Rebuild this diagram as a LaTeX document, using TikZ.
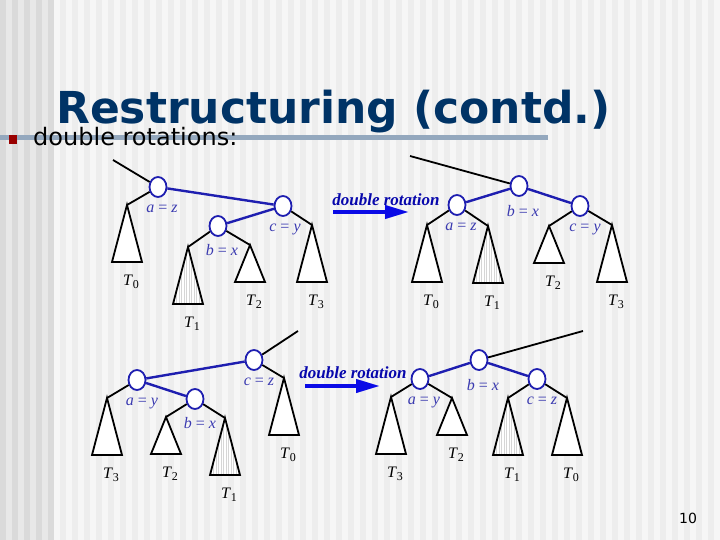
\documentclass[tikz,border=0pt]{standalone}
\usepackage{fontspec}
\newfontfamily\slidefont{DejaVu Sans}
\newfontfamily\timesfont{Liberation Serif}
\usetikzlibrary{arrows.meta,calc,shapes.geometric}
\definecolor{titleblue}{HTML}{003366}
\definecolor{rulegray}{HTML}{94A8BE}
\definecolor{bulletred}{HTML}{990000}
\definecolor{treeblue}{HTML}{1E1EB0}
\definecolor{arrowblue}{HTML}{0A0AE6}
\definecolor{labelblue}{HTML}{3A3AB0}
\definecolor{bglight}{HTML}{F6F6F6}
\definecolor{bgstripe}{HTML}{EDEDED}
\definecolor{sidelight}{HTML}{E8E8E8}
\definecolor{sidestripe}{HTML}{DADADA}
\tikzset{
  keynode/.style={ellipse,draw=treeblue,fill=white,line width=1.8pt,
    minimum width=17pt,minimum height=20pt,inner sep=0pt},
  link/.style={draw=treeblue,line width=2.4pt},
  edge/.style={draw=black,line width=1.8pt},
  keylabel/.style={text=labelblue,font=\timesfont\fontsize{16}{16}\selectfont,inner sep=0pt,yshift=-7pt},
  subtree/.style={draw=black,line width=1.8pt,line join=miter},
  hatchline/.style={draw=black!16,line width=.6pt},
  sublabel/.style={font=\timesfont\fontsize{16}{16}\selectfont,inner sep=0pt},
  rotlabel/.style={text=arrowblue!75!black,font=\timesfont\bfseries\itshape\fontsize{17}{17}\selectfont,inner sep=0pt},
  rotarrow/.style={draw=arrowblue,line width=4pt,-{Triangle[length=24pt,width=13pt]}}}
\newcommand{\eq}[2]{\textit{#1} = \textit{#2}}
\newcommand{\tsub}[1]{\textit{T}\raisebox{-3.5pt}{\fontsize{12}{12}\selectfont #1}}
% apex, height, index
\newcommand{\subtri}[3]{%
  \draw[subtree,fill=white] (#1) -- ++(-15,#2) -- ++(30,0) -- cycle;
  \node[sublabel] at ($(#1)+(4,#2+20)$) {\tsub{#3}};}
\newcommand{\hatchtri}[3]{%
  \fill[white] (#1) -- ++(-15,#2) -- ++(30,0) -- cycle;
  \begin{scope}
    \clip (#1) -- ++(-15,#2) -- ++(30,0) -- cycle;
    \foreach \dx in {-14,-11.5,...,15} {\draw[hatchline] ($(#1)+(\dx,0)$) -- ++(0,#2);}
  \end{scope}
  \draw[subtree] (#1) -- ++(-15,#2) -- ++(30,0) -- cycle;
  \node[sublabel] at ($(#1)+(4,#2+20)$) {\tsub{#3}};}
\begin{document}
\begin{tikzpicture}[x=1pt,y=-1pt]
% background
\fill[bglight] (0,0) rectangle (720,540);
\foreach \x in {0,12,...,708} {\fill[bgstripe] (\x,0) rectangle ++(6,540);}
\fill[sidelight] (0,0) rectangle (54,540);
\foreach \x in {0,12,...,48} {\fill[sidestripe] (\x,0) rectangle ++(6,540);}
\useasboundingbox (0,0) rectangle (720,540);
% title
\fill[rulegray] (0,135) rectangle (548,140);
\node[anchor=base west,inner sep=0pt,text=titleblue,font=\slidefont\bfseries\fontsize{44}{44}\selectfont] (title) at (56,124) {Restructuring (contd.)};
\fill[bulletred] (9,135) rectangle (17,144);
\node[anchor=base west,inner sep=0pt,font=\slidefont\fontsize{24}{24}\selectfont] (bullet) at (33,146) {double rotations:};
\node[anchor=base west,inner sep=0pt,font=\slidefont\fontsize{14}{14}\selectfont] (page) at (679,523) {10};

% top left: before
\coordinate (s1) at (113,160);\coordinate (t10) at (127,205);\coordinate (t11) at (188,247);\coordinate (t12) at (250,245);\coordinate (t13) at (312,225);
\node[keynode,label={[keylabel,xshift=4pt]below:\eq{a}{z}}] (a1) at (158,187) {};
\node[keynode,label={[keylabel,xshift=2pt]below:\eq{c}{y}}] (c1) at (283,206) {};
\node[keynode,label={[keylabel,xshift=4pt]below:\eq{b}{x}}] (b1) at (218,226) {};
\foreach \u/\v in {s1/a1,a1/t10,b1/t11,b1/t12,c1/t13} {\draw[edge] (\u)--(\v);}
\subtri{t10}{57}{0}\hatchtri{t11}{57}{1}\subtri{t12}{37}{2}\subtri{t13}{57}{3}
\draw[link] (a1)--(c1) (c1)--(b1);

% top arrow
\node[rotlabel] (rot1) at (386,200) {double rotation};
\coordinate (r1s) at (333,212);\coordinate (r1e) at (409,212);
\draw[rotarrow] (r1s)--(r1e);

% top right: after
\coordinate (s2) at (410,156);\coordinate (t20) at (427,225);\coordinate (t21) at (488,226);\coordinate (t22) at (549,226);\coordinate (t23) at (612,225);
\node[keynode,label={[keylabel,xshift=4pt,yshift=-1pt]below:\eq{b}{x}}] (b2) at (519,186) {};
\node[keynode,label={[keylabel,xshift=4pt]below:\eq{a}{z}}] (a2) at (457,205) {};
\node[keynode,label={[keylabel,xshift=5pt]below:\eq{c}{y}}] (c2) at (580,206) {};
\foreach \u/\v in {s2/b2,a2/t20,a2/t21,c2/t22,c2/t23} {\draw[edge] (\u)--(\v);}
\subtri{t20}{57}{0}\hatchtri{t21}{57}{1}\subtri{t22}{37}{2}\subtri{t23}{57}{3}
\draw[link] (a2)--(b2) (b2)--(c2);

% bottom left: before
\coordinate (s3) at (298,331);\coordinate (t33) at (107,398);\coordinate (t32) at (166,417);\coordinate (t31) at (225,418);\coordinate (t30) at (284,378);
\node[keynode,label={[keylabel,xshift=5pt]below:\eq{c}{z}}] (c3) at (254,360) {};
\node[keynode,label={[keylabel,xshift=5pt]below:\eq{a}{y}}] (a3) at (137,380) {};
\node[keynode,label={[keylabel,xshift=5pt]below:\eq{b}{x}}] (b3) at (195,399) {};
\foreach \u/\v in {s3/c3,a3/t33,b3/t32,b3/t31,c3/t30} {\draw[edge] (\u)--(\v);}
\subtri{t33}{57}{3}\subtri{t32}{37}{2}\hatchtri{t31}{57}{1}\subtri{t30}{57}{0}
\draw[link] (c3)--(a3) (a3)--(b3);

% bottom arrow
\node[rotlabel] (rot2) at (353,373) {double rotation};
\coordinate (r2s) at (305,386);\coordinate (r2e) at (380,386);
\draw[rotarrow] (r2s)--(r2e);

% bottom right: after
\coordinate (s4) at (583,331);\coordinate (t43) at (391,397);\coordinate (t42) at (452,398);\coordinate (t41) at (508,398);\coordinate (t40) at (567,398);
\node[keynode,label={[keylabel,xshift=4pt,yshift=-1pt]below:\eq{b}{x}}] (b4) at (479,360) {};
\node[keynode,label={[keylabel,xshift=4pt]below:\eq{a}{y}}] (a4) at (420,379) {};
\node[keynode,label={[keylabel,xshift=5pt]below:\eq{c}{z}}] (c4) at (537,379) {};
\foreach \u/\v in {s4/b4,a4/t43,a4/t42,c4/t41,c4/t40} {\draw[edge] (\u)--(\v);}
\subtri{t43}{57}{3}\subtri{t42}{37}{2}\hatchtri{t41}{57}{1}\subtri{t40}{57}{0}
\draw[link] (a4)--(b4) (b4)--(c4);
\end{tikzpicture}
\end{document}
